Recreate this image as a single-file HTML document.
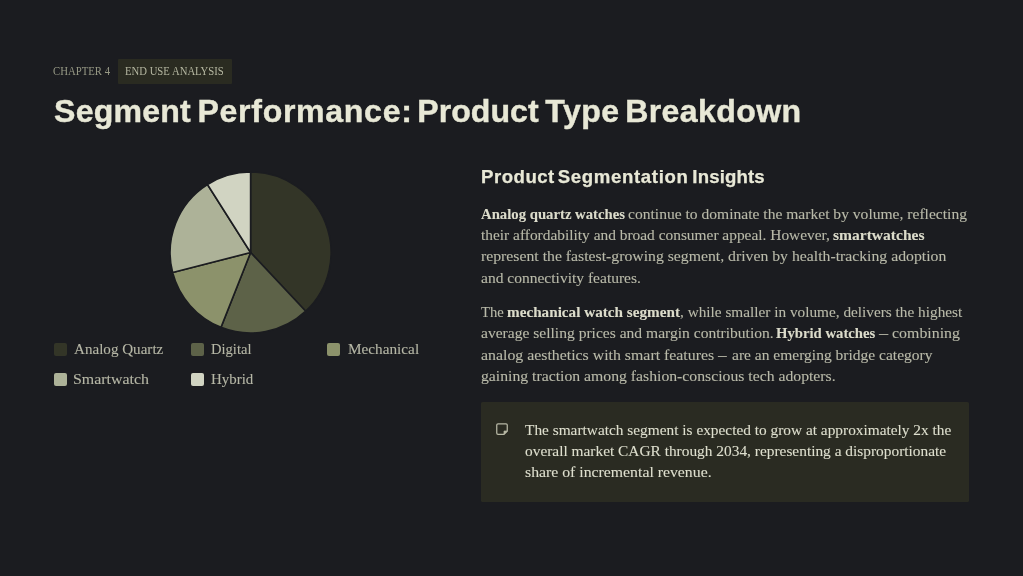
<!DOCTYPE html>
<html lang="en"><head><meta charset="utf-8"><title>Segment Performance: Product Type Breakdown</title>
<style>
html,body{margin:0;padding:0;}
body{width:1023px;height:576px;overflow:hidden;background:#1b1c20;position:relative;font-family:"Liberation Serif",serif;}
.t{transform-origin:0 0;position:absolute;white-space:pre;margin:0;padding:0;display:block;}
.f-serif{font-family:"Liberation Serif",serif;}
.f-sans{font-family:"Liberation Sans",sans-serif;}
.b{font-weight:700;}
.txt{position:absolute;left:0;top:0;width:1023px;height:576px;will-change:transform;}
.tag{position:absolute;left:117.8px;top:58.8px;width:114.4px;height:24.9px;background:#2a2b21;border-radius:1px;}
.call{position:absolute;left:481.2px;top:402.1px;width:488.2px;height:99.5px;background:#2a2b22;border-radius:1.5px;}
.sw{position:absolute;width:13px;height:12.8px;border-radius:2px;}
.pie{position:absolute;left:0;top:0;}
.ico{position:absolute;left:495.2px;top:421.9px;}
</style></head><body>
<div class="tag"></div>
<div class="call"></div>
<svg class="pie" width="1023" height="576" viewBox="0 0 1023 576"><path d="M250.6 252.5L250.60 172.00A80.5 80.5 0 0 1 305.71 311.18Z" fill="#333527" stroke="#1b1c20" stroke-width="1.6" stroke-linejoin="round"/><path d="M250.6 252.5L305.71 311.18A80.5 80.5 0 0 1 220.97 327.35Z" fill="#5d6248" stroke="#1b1c20" stroke-width="1.6" stroke-linejoin="round"/><path d="M250.6 252.5L220.97 327.35A80.5 80.5 0 0 1 172.63 272.52Z" fill="#8c926b" stroke="#1b1c20" stroke-width="1.6" stroke-linejoin="round"/><path d="M250.6 252.5L172.63 272.52A80.5 80.5 0 0 1 207.47 184.53Z" fill="#adb298" stroke="#1b1c20" stroke-width="1.6" stroke-linejoin="round"/><path d="M250.6 252.5L207.47 184.53A80.5 80.5 0 0 1 250.60 172.00Z" fill="#d1d4c2" stroke="#1b1c20" stroke-width="1.6" stroke-linejoin="round"/></svg>
<div class="sw" style="left:53.8px;top:343.2px;background:#333527"></div><div class="sw" style="left:190.6px;top:343.2px;background:#5d6248"></div><div class="sw" style="left:327.4px;top:343.2px;background:#8c926b"></div><div class="sw" style="left:53.8px;top:373.3px;background:#adb298"></div><div class="sw" style="left:190.6px;top:373.3px;background:#d1d4c2"></div>
<svg class="ico" width="14" height="14" viewBox="0 0 14 14" fill="none"><path d="M3 1.75H11A1.25 1.25 0 0 1 12.25 3V9L9 12.25H3A1.25 1.25 0 0 1 1.75 11V3A1.25 1.25 0 0 1 3 1.75Z" stroke="#b7b8a5" stroke-width="1.25" stroke-linejoin="round"/><path d="M9 12.25V9H12.25Z" fill="#b7b8a5" stroke="#b7b8a5" stroke-width="0.7" stroke-linejoin="round"/></svg>
<div class="txt">
<span class="t f-serif" style="transform:scaleX(0.8968);left:53.00px;top:64.00px;font-size:12px;line-height:14.4px;color:#979985">CHAPTER 4</span>
<span class="t f-serif" style="transform:scaleX(0.8911);left:125.00px;top:64.00px;font-size:12px;line-height:14.4px;color:#b5b7a1">END USE ANALYSIS</span>
<span class="t f-sans b" style="-webkit-text-stroke:0.4px #e8e8d6;left:54.05px;top:91.95px;font-size:32.1px;line-height:38.52px;color:#e8e8d6;letter-spacing:0.208px">Segment</span>
<span class="t f-sans b" style="-webkit-text-stroke:0.4px #e8e8d6;left:197.50px;top:91.95px;font-size:32.1px;line-height:38.52px;color:#e8e8d6;letter-spacing:0.686px">Performance:</span>
<span class="t f-sans b" style="-webkit-text-stroke:0.4px #e8e8d6;left:417.30px;top:91.95px;font-size:32.1px;line-height:38.52px;color:#e8e8d6;letter-spacing:0.025px">Product</span>
<span class="t f-sans b" style="-webkit-text-stroke:0.4px #e8e8d6;left:545.25px;top:91.95px;font-size:32.1px;line-height:38.52px;color:#e8e8d6;letter-spacing:0.450px">Type</span>
<span class="t f-sans b" style="-webkit-text-stroke:0.4px #e8e8d6;left:625.15px;top:91.95px;font-size:32.1px;line-height:38.52px;color:#e8e8d6;letter-spacing:0.394px">Breakdown</span>
<span class="t f-sans b" style="-webkit-text-stroke:0.25px #e8e8d6;left:481.00px;top:166.05px;font-size:18.6px;line-height:22.32px;color:#e8e8d6;letter-spacing:0.508px">Product</span>
<span class="t f-sans b" style="-webkit-text-stroke:0.25px #e8e8d6;left:557.80px;top:166.05px;font-size:18.6px;line-height:22.32px;color:#e8e8d6;letter-spacing:0.645px">Segmentation</span>
<span class="t f-sans b" style="-webkit-text-stroke:0.25px #e8e8d6;left:692.35px;top:166.05px;font-size:18.6px;line-height:22.32px;color:#e8e8d6;letter-spacing:0.150px">Insights</span>
<span class="t f-serif" style="transform:scaleX(1.0062);-webkit-text-stroke:0.1px #b6b7a6;left:74.00px;top:340.00px;font-size:15px;line-height:18.0px;color:#b6b7a6">Analog Quartz</span>
<span class="t f-serif" style="transform:scaleX(0.9707);-webkit-text-stroke:0.1px #b6b7a6;left:211.00px;top:340.00px;font-size:15px;line-height:18.0px;color:#b6b7a6">Digital</span>
<span class="t f-serif" style="transform:scaleX(1.0166);-webkit-text-stroke:0.1px #b6b7a6;left:348.00px;top:340.00px;font-size:15px;line-height:18.0px;color:#b6b7a6">Mechanical</span>
<span class="t f-serif" style="transform:scaleX(1.0615);-webkit-text-stroke:0.1px #b6b7a6;left:73.00px;top:370.00px;font-size:15px;line-height:18.0px;color:#b6b7a6">Smartwatch</span>
<span class="t f-serif" style="transform:scaleX(0.9952);-webkit-text-stroke:0.1px #b6b7a6;left:211.00px;top:370.00px;font-size:15px;line-height:18.0px;color:#b6b7a6">Hybrid</span>
<span class="t f-serif b" style="transform:scaleX(1.0235);-webkit-text-stroke:0.1px #dcdccb;left:481.00px;top:206.00px;font-size:14.4px;line-height:17.28px;color:#dcdccb">Analog quartz watches</span>
<span class="t f-serif" style="transform:scaleX(1.0819);-webkit-text-stroke:0.1px #b9baa9;left:628.00px;top:206.00px;font-size:14.4px;line-height:17.28px;color:#b9baa9">continue to dominate the market by volume, reflecting</span>
<span class="t f-serif" style="transform:scaleX(1.0703);-webkit-text-stroke:0.1px #b9baa9;left:481.00px;top:227.00px;font-size:14.4px;line-height:17.28px;color:#b9baa9">their affordability and broad consumer appeal. However,</span>
<span class="t f-serif b" style="transform:scaleX(1.0798);-webkit-text-stroke:0.1px #dcdccb;left:833.00px;top:227.00px;font-size:14.4px;line-height:17.28px;color:#dcdccb">smartwatches</span>
<span class="t f-serif" style="transform:scaleX(1.0943);-webkit-text-stroke:0.1px #b9baa9;left:481.00px;top:248.00px;font-size:14.4px;line-height:17.28px;color:#b9baa9">represent the fastest-growing segment, driven by health-tracking adoption</span>
<span class="t f-serif" style="transform:scaleX(1.0789);-webkit-text-stroke:0.1px #b9baa9;left:481.00px;top:270.00px;font-size:14.4px;line-height:17.28px;color:#b9baa9">and connectivity features.</span>
<span class="t f-serif" style="transform:scaleX(1.0182);-webkit-text-stroke:0.1px #b9baa9;left:481.00px;top:304.00px;font-size:14.4px;line-height:17.28px;color:#b9baa9">The</span>
<span class="t f-serif b" style="transform:scaleX(1.0557);-webkit-text-stroke:0.1px #dcdccb;left:507.00px;top:304.00px;font-size:14.4px;line-height:17.28px;color:#dcdccb">mechanical watch segment</span>
<span class="t f-serif" style="transform:scaleX(1.0620);-webkit-text-stroke:0.1px #b9baa9;left:680.00px;top:304.00px;font-size:14.4px;line-height:17.28px;color:#b9baa9">, while smaller in volume, delivers the highest</span>
<span class="t f-serif" style="transform:scaleX(1.0813);-webkit-text-stroke:0.1px #b9baa9;left:481.00px;top:325.00px;font-size:14.4px;line-height:17.28px;color:#b9baa9">average selling prices and margin contribution.</span>
<span class="t f-serif b" style="transform:scaleX(1.0222);-webkit-text-stroke:0.1px #dcdccb;left:776.00px;top:325.00px;font-size:14.4px;line-height:17.28px;color:#dcdccb">Hybrid watches</span>
<span class="t f-serif" style="transform:scaleX(0.6373);-webkit-text-stroke:0.1px #b9baa9;left:879.00px;top:325.00px;font-size:14.4px;line-height:17.28px;color:#b9baa9">—</span>
<span class="t f-serif" style="transform:scaleX(1.1049);-webkit-text-stroke:0.1px #b9baa9;left:892.00px;top:325.00px;font-size:14.4px;line-height:17.28px;color:#b9baa9">combining</span>
<span class="t f-serif" style="transform:scaleX(1.1009);-webkit-text-stroke:0.1px #b9baa9;left:481.00px;top:347.00px;font-size:14.4px;line-height:17.28px;color:#b9baa9">analog aesthetics with smart features</span>
<span class="t f-serif" style="transform:scaleX(0.6034);-webkit-text-stroke:0.1px #b9baa9;left:718.00px;top:347.00px;font-size:14.4px;line-height:17.28px;color:#b9baa9">—</span>
<span class="t f-serif" style="transform:scaleX(1.0782);-webkit-text-stroke:0.1px #b9baa9;left:732.00px;top:347.00px;font-size:14.4px;line-height:17.28px;color:#b9baa9">are an emerging bridge category</span>
<span class="t f-serif" style="transform:scaleX(1.0929);-webkit-text-stroke:0.1px #b9baa9;left:481.00px;top:368.00px;font-size:14.4px;line-height:17.28px;color:#b9baa9">gaining traction among fashion-conscious tech adopters.</span>
<span class="t f-serif" style="transform:scaleX(1.0668);-webkit-text-stroke:0.1px #dedfce;left:525.00px;top:422.00px;font-size:14.4px;line-height:17.28px;color:#dedfce">The smartwatch segment is expected to grow at approximately 2x the</span>
<span class="t f-serif" style="transform:scaleX(1.0687);-webkit-text-stroke:0.1px #dedfce;left:525.00px;top:443.00px;font-size:14.4px;line-height:17.28px;color:#dedfce">overall market CAGR through 2034, representing a disproportionate</span>
<span class="t f-serif" style="transform:scaleX(1.0963);-webkit-text-stroke:0.1px #dedfce;left:525.00px;top:464.00px;font-size:14.4px;line-height:17.28px;color:#dedfce">share of incremental revenue.</span>
</div>
</body></html>
